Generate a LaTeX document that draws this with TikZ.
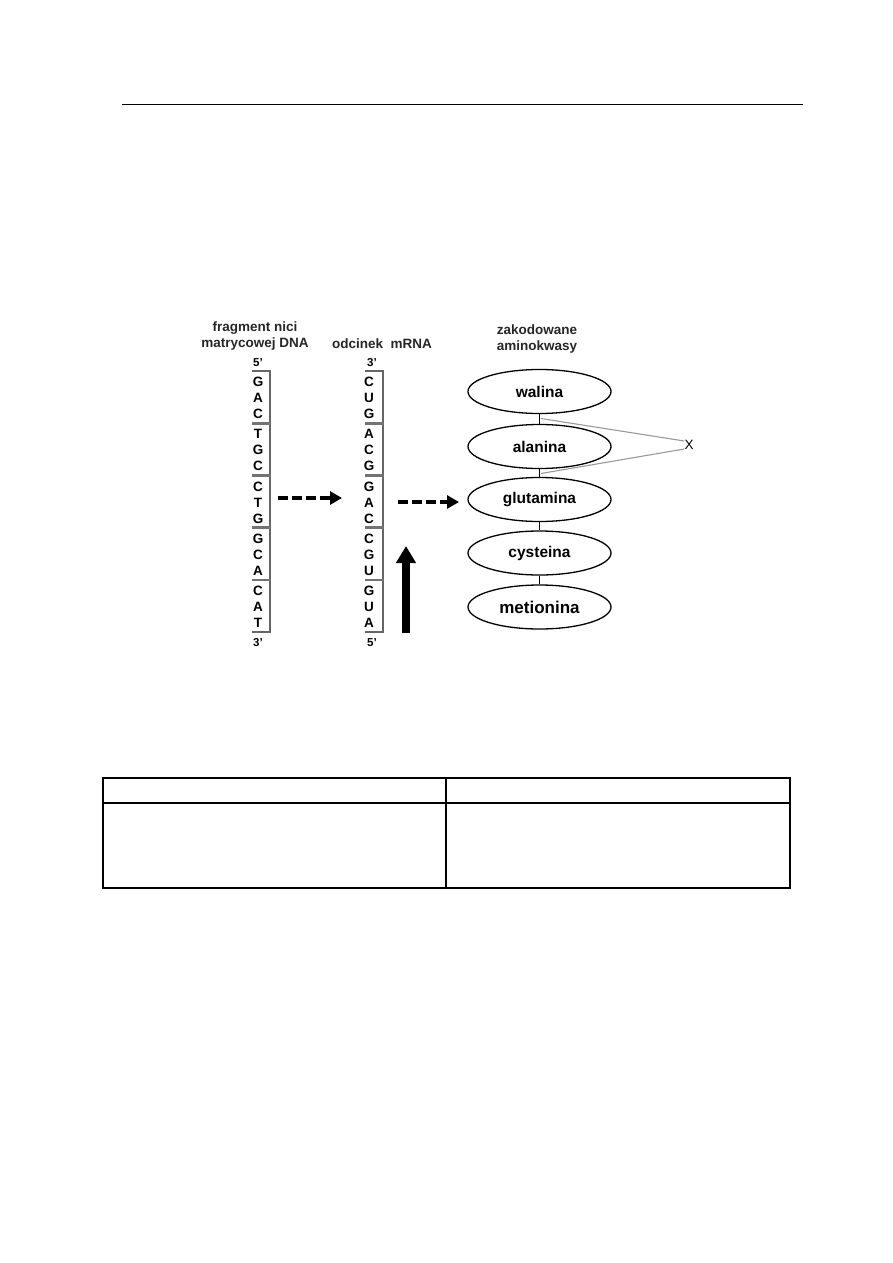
\documentclass[tikz,border=0pt]{standalone}
\usepackage{fontspec}
\setmainfont{Liberation Sans}
\usetikzlibrary{arrows.meta,shapes.geometric}
\begin{document}
\begin{tikzpicture}[x={(1pt,0)},y={(0,-1pt)},
  head/.style={font=\bfseries\fontsize{13.5}{15.5}\selectfont,text=black!85,align=center,inner sep=0},
  base/.style={font=\bfseries\fontsize{13.5}{13.5}\selectfont,inner sep=0},
  prime/.style={font=\bfseries\fontsize{11.5}{12}\selectfont,inner sep=0},
  strand/.style={draw=black!60,line width=1.2pt},
  sep/.style={draw=black!55,line width=2.6pt},
  amino/.style={draw,line width=1.3pt,ellipse,minimum width=143pt,minimum height=44pt,inner sep=0,font=\bfseries\fontsize{15.5}{16}\selectfont},
  link/.style={draw,line width=1.7pt},
  xline/.style={draw=black!40,line width=1.1pt},
  dasharrow/.style={line width=3.5pt,dash pattern=on 10pt off 4pt,-{Triangle[length=12pt,width=13pt]}},
  bigarrow/.style={line width=8pt,-{Triangle[length=17pt,width=19pt]}},
  frame/.style={draw,line width=1.5pt}
]
\useasboundingbox (0,0) rectangle (893,1263);
% top rule
\draw[line width=1pt] (122,104) coordinate (r1) -- (803,104) coordinate (r2);

% headings
\node[head] (hdna) at (255,336) {fragment nici\\matrycowej DNA};
\node[head] (hmrna) at (382,344) {odcinek\ \ mRNA};
\node[head] (hamino) at (537,339) {zakodowane\\aminokwasy};

% DNA strand
\node[prime] (d5) at (258,363) {5\char"27};
\node[prime] (d3) at (258,643) {3\char"27};
\draw[strand] (252,371) -- (270,371) -- (270,632) -- (252,632);
\foreach \yy in {423.2,475.4,527.6,579.8}{\draw[sep] (252,\yy) -- (271,\yy);}
% mRNA strand
\node[prime] (m3) at (372,363) {3\char"27};
\node[prime] (m5) at (372,643) {5\char"27};
\draw[strand] (365,371) -- (383,371) -- (383,632) -- (365,632);
\foreach \yy in {423.2,475.4,527.6,579.8}{\draw[sep] (365,\yy) -- (384,\yy);}

\foreach \c/\l in {0/{G,A,C},1/{T,G,C},2/{C,T,G},3/{G,C,A},4/{C,A,T}}{
  \foreach \b [count=\k] in \l {
    \node[base] (dna\c\k) at (258,{371+52.2*\c+16*\k-5}) {\b};
  }
}
\foreach \c/\l in {0/{C,U,G},1/{A,C,G},2/{G,A,C},3/{C,G,U},4/{G,U,A}}{
  \foreach \b [count=\k] in \l {
    \node[base] (rna\c\k) at (369,{371+52.2*\c+16*\k-5}) {\b};
  }
}

% arrows
\coordinate (a1s) at (278,498);
\coordinate (a1e) at (342,498);
\coordinate (a2s) at (398,502);
\coordinate (a2e) at (459,502);
\draw[dasharrow] (a1s) -- (a1e);
\draw[dasharrow] (a2s) -- (a2e);
\coordinate (bas) at (406,633);
\coordinate (bae) at (406,546);
\draw[bigarrow] (bas) -- (bae);

% amino acids
\node[amino] (wal) at (539.5,391.5) {walina};
\node[amino] (ala) at (539.5,446.5) {alanina};
\node[amino] (glu) at (539.5,499.5) {glutamina};
\node[amino] (cys) at (539.5,553) {cysteina};
\node[amino,font=\bfseries\fontsize{17}{18}\selectfont] (met) at (539.5,607) {metionina};
\draw[link] (wal) -- (ala);
\draw[link] (ala) -- (glu);
\draw[link] (glu) -- (cys);
\draw[link] (cys) -- (met);

\node[font=\fontsize{13.5}{14}\selectfont,inner sep=0] (x) at (689,445) {X};
\coordinate (x1) at (541,418.5);
\coordinate (x2) at (541,473.5);
\draw[xline] (x1) -- (x.west |- 0,441);
\draw[xline] (x2) -- (x.west |- 0,449);

% table
\draw[frame] (103,778) coordinate (t1) rectangle (790,888) coordinate (t2);
\draw[frame] (103,803) coordinate (t3) -- (790,803) coordinate (t4);
\draw[frame] (446,778) coordinate (t5) -- (446,888) coordinate (t6);
\end{tikzpicture}
\end{document}
